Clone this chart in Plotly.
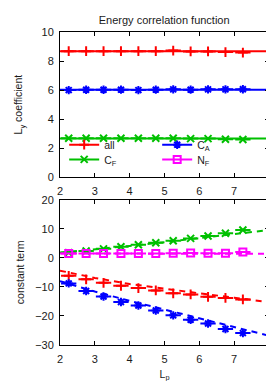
import plotly.graph_objects as go
from plotly.subplots import make_subplots

# ---- data ----
lp = [2.25, 2.75, 3.25, 3.75, 4.25, 4.75, 5.25, 5.75, 6.25, 6.75, 7.25]
half_bin = 0.22

coef_all = [8.68, 8.68, 8.68, 8.68, 8.68, 8.68, 8.72, 8.66, 8.66, 8.62, 8.58]
coef_ca = [6.00, 6.02, 6.02, 6.03, 6.00, 6.03, 6.05, 6.03, 6.05, 6.05, 6.06]
coef_cf = [2.68, 2.68, 2.68, 2.68, 2.68, 2.68, 2.68, 2.66, 2.66, 2.62, 2.60]

const_all = [-6.2, -7.4, -8.6, -9.6, -10.4, -11.2, -12.2, -12.6, -13.4, -13.8, -14.3]
const_ca = [-8.8, -11.4, -13.3, -15.2, -16.4, -18.1, -19.8, -21.3, -22.6, -24.5, -25.9]
const_cf = [1.8, 2.35, 3.1, 3.8, 4.5, 5.2, 5.9, 6.7, 7.5, 8.5, 9.6]
const_nf = [1.5, 1.5, 1.5, 1.5, 1.5, 1.5, 1.6, 1.7, 1.6, 1.6, 2.0]

fit_x_top = [2, 8]
fit_coef_all = [8.68, 8.68]
fit_coef_ca = [6.02, 6.02]
fit_coef_cf = [2.66, 2.66]

fit_x_bot = [2, 3, 4, 5, 6, 7, 8]
fit_const_all = [-4.4, -6.9, -9.0, -10.7, -12.2, -13.7, -15.3]
fit_const_ca = [-8.0, -11.6, -14.8, -17.8, -20.8, -23.8, -26.8]
fit_const_cf = [1.8, 2.9, 4.1, 5.4, 6.8, 8.2, 9.6]
fit_const_nf = [1.5, 1.5, 1.5, 1.5, 1.5, 1.5, 1.4]

x_ticks = [2, 3, 4, 5, 6, 7, 8]
top_ticks = [0, 2, 4, 6, 8, 10]
bot_ticks = [-30, -20, -10, 0, 10, 20]

names = ["all", "C<sub>A</sub>", "C<sub>F</sub>", "N<sub>F</sub>"]
colors = ["#ff0000", "#0000ff", "#00c000", "#ff00ff"]
symbols = ["cross-thin", "asterisk", "x-thin", "square-open"]

FONT = "Liberation Sans, Arial, sans-serif"
TXT = "#1a1a1a"

fig = make_subplots(rows=2, cols=1, vertical_spacing=0.072)

def marker(i):
    return dict(symbol=symbols[i], size=7, color=colors[i],
                line=dict(color=colors[i], width=2))

def errx(i):
    return dict(type="constant", value=half_bin, width=0, thickness=2, color=colors[i])

top_data = [coef_all, coef_ca, coef_cf]
top_fits = [fit_coef_all, fit_coef_ca, fit_coef_cf]
for i in range(3):
    fig.add_trace(go.Scatter(x=fit_x_top, y=top_fits[i], mode="lines",
                             line=dict(color=colors[i], width=2),
                             showlegend=False, hoverinfo="skip"), row=1, col=1)
    fig.add_trace(go.Scatter(x=lp, y=top_data[i], mode="markers",
                             marker=marker(i), error_x=errx(i),
                             showlegend=False), row=1, col=1)

bot_data = [const_all, const_ca, const_cf, const_nf]
bot_fits = [fit_const_all, fit_const_ca, fit_const_cf, fit_const_nf]
for i in range(4):
    fig.add_trace(go.Scatter(x=fit_x_bot, y=bot_fits[i], mode="lines",
                             line=dict(color=colors[i], width=2, dash="6px,5px"),
                             showlegend=False, hoverinfo="skip"), row=2, col=1)
    fig.add_trace(go.Scatter(x=lp, y=bot_data[i], mode="markers",
                             marker=marker(i), error_x=errx(i),
                             showlegend=False), row=2, col=1)

# legend entries (line + point key, as in the original key)
legend_ids = ["legend", "legend", "legend2", "legend2"]
for i in range(4):
    fig.add_trace(go.Scatter(x=[None], y=[None], mode="lines+markers", name=names[i],
                             marker=marker(i), line=dict(color=colors[i], width=2),
                             legend=legend_ids[i], showlegend=True), row=1, col=1)

axis_common = dict(showline=True, linecolor="black", linewidth=1, mirror="allticks",
                   ticks="inside", ticklen=4, tickcolor="black", showgrid=False,
                   zeroline=False, tickfont=dict(family=FONT, size=11, color=TXT))

fig.update_xaxes(range=[2, 8], tickvals=x_ticks, ticklabelstandoff=4, **axis_common)
fig.update_yaxes(ticklabelstandoff=3, **axis_common)
fig.update_yaxes(range=[0, 10], tickvals=top_ticks, row=1, col=1,
                 title=dict(text="L<sub>y</sub> coefficient",
                            font=dict(family=FONT, size=10.5, color=TXT), standoff=16))
fig.update_yaxes(range=[-30, 20], tickvals=bot_ticks, row=2, col=1,
                 title=dict(text="constant term",
                            font=dict(family=FONT, size=10.5, color=TXT), standoff=8))
fig.update_xaxes(row=2, col=1,
                 title=dict(text="L<sub>p</sub>", font=dict(family=FONT, size=10.5, color=TXT),
                            standoff=6))

leg_common = dict(orientation="h", bgcolor="rgba(0,0,0,0)", borderwidth=0,
                  font=dict(family=FONT, size=10.5, color=TXT),
                  entrywidth=48, itemwidth=30, xanchor="left", yanchor="middle",
                  tracegroupgap=0, itemsizing="trace")

fig.update_layout(
    width=274, height=381,
    margin=dict(l=49, r=10, t=24, b=38),
    paper_bgcolor="white", plot_bgcolor="white",
    title=dict(text="Energy correlation function", x=0.57, xanchor="center",
               y=0.968, yanchor="middle", font=dict(family=FONT, size=11, color=TXT)),
    legend=dict(leg_common, x=0.02, y=0.64),
    legend2=dict(leg_common, x=0.02, y=0.593),
    showlegend=True,
)

fig.write_html("out.html")
